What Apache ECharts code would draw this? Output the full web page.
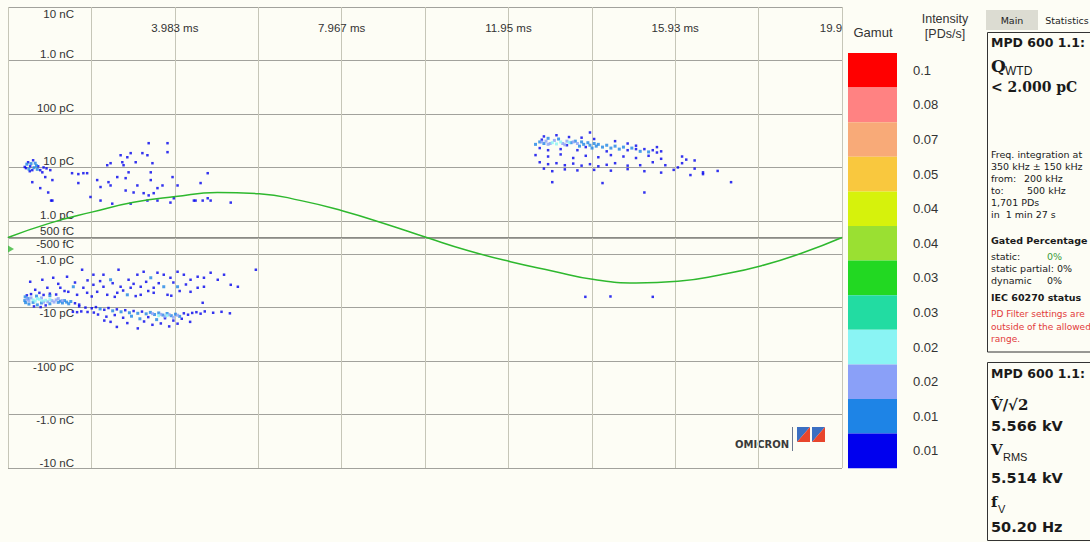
<!DOCTYPE html>
<html><head><meta charset="utf-8">
<script src="https://cdn.jsdelivr.net/npm/echarts@6/dist/echarts.min.js"></script>
<style>html,body{margin:0;padding:0;background:#fdfdf5;}#c{width:1090px;height:542px;}</style>
</head><body><div id="c"></div>
<script>
// ---------- data ----------
const T_MAX = 19.92;                       // ms, one period at 50.20 Hz
const T_STEP = 1.992;
const xTickLabels = ['', '', '3.983 ms', '', '7.967 ms', '', '11.95 ms', '', '15.93 ms', '', '19.9'];
const qTickValues = [0.5, 1, 10, 100, 1000, 10000];               // pC
const qPosLabels = ['500 fC', '1.0 pC', '10 pC', '100 pC', '1.0 nC', '10 nC'];
const qNegLabels = ['-500 fC', '-1.0 pC', '-10 pC', '-100 pC', '-1.0 nC', '-10 nC'];

// test voltage (kV)
const sineT  = [0, 1, 2, 3, 4, 5, 6, 7, 8, 9, 10, 11, 12, 13, 14, 15, 16, 17, 18, 19, 19.92];
const sineKV = [0, 2.5, 4.4, 6.1, 7.1, 7.8, 7.6, 6.4, 4.6, 2.4, 0, -2.3, -4.2, -5.8, -7.3, -7.9, -7.6, -6.5, -4.9, -2.6, 0];
const triggerLevel = [[0, -2.0]];

// gamut (intensity, PDs/s)
const gamutBounds = [0, 0.008, 0.012, 0.017, 0.022, 0.028, 0.034, 0.04, 0.047, 0.06, 0.075, 0.09, 1];
const gamutLabels = ['0.01', '0.01', '0.02', '0.02', '0.03', '0.03', '0.04', '0.04', '0.05', '0.07', '0.08', '0.1'];
const gamutColors = ['#0000ee', '#1e84e6', '#8aa0f8', '#8af4f4', '#22dca2', '#22d822', '#9ae032', '#d6f20c', '#f9c83e', '#f8aa78', '#ff8282', '#ff0000'];

// intensity of each PD group
const levelIntensity = [0.005, 0.01, 0.015, 0.02];

// PD points [phase time ms, charge pC]
const pdDark = [
  [0.43,9.7],[0.48,12.5],[0.53,10.5],[0.58,8.9],[0.6,13.6],[0.72,10.5],[0.77,8.9],[0.82,8.1],[1.01,8.9],[1.06,5.8],
  [0.77,4.1],[0.96,3.4],[1.06,2.4],[0.89,6.6],[0.58,5.3],[1.53,7.8],[1.68,7.5],[1.8,7.8],[1.68,5.1],[1.97,2.8],
  [2.21,4.3],[2.4,5.3],[2.45,4.6],[2.37,11.0],[2.45,12.0],[2.69,16.9],[2.73,12.5],[2.76,11.0],[2.93,18.5],[2.85,15.5],
  [3.05,12.5],[2.88,8.1],[2.61,6.6],[2.81,6.3],[3.09,4.6],[2.81,3.7],[3.0,3.4],[3.24,3.3],[3.33,2.4],[3.36,3.0],
  [3.48,3.3],[3.41,8.1],[3.45,12.0],[3.41,5.8],[3.21,18.5],[3.33,16.9],[3.36,28.4],[3.81,28.4],[3.81,19.3],[3.69,4.6],
  [3.57,4.1],[3.93,6.6],[4.05,4.6],[3.96,2.65],[3.88,2.2],[2.49,2.1],[2.93,2.1],[2.21,2.4],[2.13,5.8],[1.89,7.8],
  [4.6,5.1],[4.65,2.4],[4.48,2.4],[4.77,2.65],[4.77,7.8],[1.03,2.4],[3.57,2.4],[4.84,2.4],[5.32,2.2],[4.44,2.4],
  [0.4,10.2],[0.85,10.0],[0.92,9.6],[0.52,8.5],
  [1.77,-1.96],[2.64,-1.96],[2.04,-2.43],[1.41,-2.65],[1.08,-2.77],[0.82,-3.02],[0.53,-3.29],[2.28,-2.43],[2.88,-3.02],
  [3.09,-2.43],[3.24,-2.14],[3.57,-2.23],[3.72,-2.43],[3.88,-2.77],[4.05,-2.14],[4.2,-2.43],[4.36,-3.02],[4.53,-2.65],
  [4.68,-2.77],[4.84,-2.23],[5.01,-3.02],[5.16,-2.43],[5.32,-3.75],[5.49,-4.08],[5.92,-1.96],[4.68,-4.08],[4.53,-4.26],
  [3.48,-4.26],[3.17,-4.08],[2.93,-4.26],[2.69,-4.08],[2.28,-4.08],[2.04,-3.75],[1.8,-4.26],[1.25,-4.26],[0.94,-4.26],
  [0.65,-4.65],[4.36,-5.07],[4.65,-8.14],[3.81,-5.77],[3.48,-5.29],[3.17,-5.77],[2.61,-5.29],[2.37,-5.77],[2.13,-5.07],
  [1.89,-5.29],[1.65,-5.77],[1.44,-5.07],[2.5,-3.5],[3.0,-3.6],[3.3,-3.3],[3.6,-3.5],[3.95,-3.4],[4.25,-3.7],[1.9,-3.1],
  [1.6,-3.4],[1.2,-3.6],[2.2,-3.2],[2.75,-4.8],[3.35,-4.9],[4.1,-4.9],[1.35,-4.9],[1.0,-5.5],[0.75,-5.3],[3.9,-6.0],
  [2.0,-6.2],[2.55,-6.3],[3.05,-6.1],
  [1.6,-8.3],[1.7,-8.8],[0.9,-9.1],[0.45,-5.9],[0.55,-5.6],[0.85,-5.8],[1.15,-5.7],[0.62,-9.5],[0.78,-9.8],
  [1.55,-12.0],[1.65,-12.2],[1.75,-11.8],[1.9,-12.1],[2.05,-12.4],
  [1.7,-9.5],[1.85,-10.0],[2.0,-10.3],[2.1,-9.8],[2.3,-11.0],[2.4,-10.2],[2.6,-10.8],[2.8,-11.2],[3.0,-11.6],[3.2,-11.9],
  [4.2,-12.8],[4.3,-13.6],[4.4,-12.6],[4.5,-12.2],[4.6,-13.0],[2.15,-13.5],[2.35,-14.8],[2.55,-13.8],[2.75,-15.5],
  [3.35,-15.1],[3.75,-15.8],[3.95,-17.5],[4.15,-16.2],[2.45,-18.5],[2.85,-19.5],[3.25,-18.2],[3.45,-21.0],[3.65,-19.8],
  [3.85,-22.5],[2.6,-23.0],[3.1,-24.5],[2.3,-17.5],[4.05,-20.0],[4.35,-18.5],[4.7,-11.8],[4.9,-12.5],[5.1,-12.0],[5.3,-12.8],
  [12.75,33],[13.35,26],[13.8,24],[14.8,21],[15.0,22],[15.2,22],[15.4,21],[15.5,19],[15.6,20],[12.8,38],[13.1,40],
  [13.4,37],[13.7,36],[14.0,34],[14.5,31],[13.9,45],[13.2,22],[12.9,21],[12.7,23],[13.6,21],[14.3,20],[15.0,25.5],
  [15.5,24.0],[14.8,28],
  [12.6,17],[12.9,16],[13.2,17.5],[13.5,15],[13.8,16.5],[14.1,15.5],[14.4,17],[14.7,16],[15.0,15],[15.3,16.5],[15.6,14.5],
  [16.1,16],[16.2,14],[16.4,13.5],[12.7,12.5],[12.9,11.5],[13.1,12.0],[13.3,11.0],[13.5,11.8],[13.7,10.8],[13.9,11.5],
  [14.1,10.5],[14.3,11.2],[14.5,12.0],[14.8,10.8],[15.1,11.0],[15.4,12.5],[15.7,11.0],[16.0,10.0],[16.1,12.0],[16.4,9.5],
  [12.8,9.5],[13.0,8.5],[13.3,9.2],[13.6,8.8],[14.0,9.0],[14.4,8.7],[14.8,9.3],[15.2,8.5],[15.6,8.0],[16.6,8.1],[16.95,8.6],
  [16.3,7.2],[13.0,5.3],[14.2,5.1],[15.2,3.4],[17.27,5.3],[16.6,7.5],[15.9,9.0],
  [13.79,-6.3],[14.39,-6.2],[15.4,-6.3]
];
const pdMid = [
  [0.45,11.5],[0.55,11.8],[0.62,9.9],[0.68,10.8],[0.65,12.0],[0.5,9.3],[0.7,9.2],
  [2.45,-3.02],[3.41,-2.77],[4.05,-4.08],[1.56,-4.08],[2.85,-5.77],[3.72,-4.08],
  [0.41,-6.3],[1.25,-7.6],[1.3,-8.2],[1.35,-7.4],[1.4,-7.9],[1.45,-8.5],[1.5,-7.7],[0.42,-8.1],[0.5,-8.6],[0.6,-8.0],
  [0.7,-8.9],[0.8,-8.2],[1.0,-8.5],[0.68,-6.1],[1.0,-6.0],[0.4,-7.4],[0.48,-6.8],[1.2,-8.0],
  [2.2,-10.6],[2.5,-11.5],[2.7,-12.0],[2.9,-12.5],[3.1,-12.8],[3.3,-13.1],[3.5,-13.5],[3.7,-13.8],[3.9,-14.2],[4.1,-14.6],
  [3.4,-12.3],[3.6,-12.6],[3.8,-12.9],[4.0,-13.3],[3.55,-16.8],[3.15,-16.2],[2.95,-14.5],
  [12.6,27],[12.7,30],[12.8,28],[12.9,35],[13.15,34],[13.45,29],[13.55,31],[13.65,25],[13.7,30],[13.75,27],[13.85,29],
  [13.9,26],[14.0,28],[14.05,25],[14.1,27],[14.2,24],[14.3,26],[14.5,25],[14.7,24],[14.9,23],[15.1,20],[15.3,19.5],
  [13.95,23],[14.4,23],[14.6,22]
];
const pdLight = [
  [0.5,-7.5],[0.55,-6.6],[0.8,-6.6],[0.95,-7.8],[1.05,-7.4],[1.15,-7.2],[1.2,-6.8],[0.45,-7.0],[1.1,-7.9],[0.85,-7.9],[1.3,-7.4],
  [3.45,-13.0],[3.65,-13.4],[3.85,-13.6],[4.05,-13.9],[3.75,-14.8],[3.95,-15.2],
  [12.75,30],[12.85,31],[12.95,28],[13.05,32],[13.25,28],[13.35,31],[13.5,30],[13.6,28],[13.3,26.5],[12.9,27]
];
const pdCyan = [
  [0.6,-7.2],[0.75,-7.0],[0.9,-7.3],[0.7,-6.8],[0.82,-7.5],[1.0,-7.1],[0.65,-7.6],
  [3.6,-14.2],[3.8,-14.0],
  [13.0,29],[13.2,30],[13.4,29.5],[13.1,27.5]
];

// ---------- chart ----------
const chart = echarts.init(document.getElementById('c'), null, {renderer: 'svg'});

function qIndex(v) {
  let best = 0, bd = Infinity;
  qTickValues.forEach((t, i) => { const d = Math.abs(Math.log10(v) - Math.log10(t)); if (d < bd) { bd = d; best = i; } });
  return best;
}
const labFont = {fontSize: 11.5, fontFamily: 'Liberation Sans', color: '#333'};

const pdGroups = [pdDark, pdMid, pdLight, pdCyan];
const pdSizes = [2.5, 3, 3, 3];
const series = [];
const pdSeriesIdx = [];
pdGroups.forEach((grp, li) => {
  const I = levelIntensity[li];
  const pos = grp.filter(p => p[1] > 0).map(p => [p[0], p[1], I]);
  const neg = grp.filter(p => p[1] < 0).map(p => [p[0], -p[1], I]);
  pdSeriesIdx.push(series.length);
  series.push({type: 'scatter', xAxisIndex: 0, yAxisIndex: 0, symbol: 'rect', symbolSize: pdSizes[li], data: pos, silent: true, z: 3 + li});
  pdSeriesIdx.push(series.length);
  series.push({type: 'scatter', xAxisIndex: 1, yAxisIndex: 1, symbol: 'rect', symbolSize: pdSizes[li], data: neg, silent: true, z: 3 + li});
});
series.push({
  type: 'line', xAxisIndex: 2, yAxisIndex: 2, smooth: true, showSymbol: false, silent: true, z: 10,
  data: sineT.map((t, i) => [t, sineKV[i]]),
  lineStyle: {color: '#2eb82e', width: 1.5}, itemStyle: {color: '#2eb82e'}
});
series.push({
  type: 'scatter', xAxisIndex: 2, yAxisIndex: 2, silent: true, z: 10,
  symbol: 'triangle', symbolRotate: -90, symbolSize: [7, 6], symbolOffset: [3, 0],
  itemStyle: {color: '#38b838'}, data: triggerLevel
});

const pieces = gamutLabels.map((l, i) => ({min: gamutBounds[i], max: gamutBounds[i + 1], label: l, color: gamutColors[i]}));

function txt(text, x, y, font, fill, extra) {
  return {type: 'text', silent: true, style: Object.assign({text: text, x: x, y: y, font: font, fill: fill || '#1a1a1a', align: 'left', verticalAlign: 'middle'}, extra || {})};
}
const small = '9.5px "DejaVu Sans"';
const red = '9px "DejaVu Sans"';
const smallB = 'bold 9.5px "DejaVu Sans"';
const head = 'bold 12.5px "DejaVu Sans"';
const val = 'bold 14.5px "DejaVu Sans"';
const ser = 'bold 15px "DejaVu Serif"';

const graphic = [
  txt('Gamut', 873, 32, '13px "Liberation Sans"', '#333', {align: 'center'}),
  txt('Intensity', 945, 19, '12.5px "Liberation Sans"', '#333', {align: 'center'}),
  txt('[PDs/s]', 945, 34, '12.5px "Liberation Sans"', '#333', {align: 'center'}),
  {type: 'rect', silent: true, shape: {x: 986, y: 10, width: 52, height: 20}, style: {fill: '#dcdcd2'}},
  txt('Main', 1012, 20, '9.5px "DejaVu Sans"', '#222', {align: 'center'}),
  txt('Statistics', 1067, 20, '9.5px "DejaVu Sans"', '#222', {align: 'center'}),
  {type: 'rect', silent: true, shape: {x: 987.5, y: 32.5, width: 110, height: 319.5}, style: {fill: 'none', stroke: '#333', lineWidth: 1}},
  {type: 'rect', silent: true, shape: {x: 987.5, y: 362.5, width: 110, height: 178}, style: {fill: 'none', stroke: '#333', lineWidth: 1}},
  txt('MPD 600 1.1:', 991, 42, head),
  txt('Q', 991, 66, 'bold 17px "DejaVu Serif"'),
  txt('WTD', 1005, 71, '12px "Liberation Sans"'),
  txt('< 2.000 pC', 991, 87, 'bold 14px "DejaVu Serif"'),
  txt('Freq. integration at', 991, 154, small),
  txt('350 kHz \u00b1 150 kHz', 991, 166, small),
  txt('from:', 991, 178, small), txt('200 kHz', 1024, 178, small),
  txt('to:', 991, 190, small), txt('500 kHz', 1027, 190, small),
  txt('1,701 PDs', 991, 202, small),
  txt('in  1 min 27 s', 991, 214, small),
  txt('Gated Percentage', 991, 240, smallB),
  txt('static:', 991, 256, small), txt('0%', 1047, 256, small, '#3a9a3a'),
  txt('static partial: 0%', 991, 268, small),
  txt('dynamic', 991, 280, small), txt('0%', 1047, 280, small),
  txt('IEC 60270 status', 991, 297, smallB),
  txt('PD Filter settings are', 991, 314, red, '#e23a3a'),
  txt('outside of the allowed', 991, 326.5, red, '#e23a3a'),
  txt('range.', 991, 339, red, '#e23a3a'),
  txt('MPD 600 1.1:', 991, 373, head),
  txt('V\u0302/\u221a2', 991, 405, ser),
  txt('5.566 kV', 991, 426, val),
  txt('V', 991, 450, ser), txt('RMS', 1003, 457, '11px "Liberation Sans"'),
  txt('5.514 kV', 991, 478, val),
  txt('f', 991, 502, ser), txt('V', 998, 509, '11px "Liberation Sans"'),
  txt('50.20 Hz', 991, 527, val),
  // OMICRON logo
  txt('OMICRON', 735, 444, 'bold 10px "DejaVu Sans"', '#3a3a3a'),
  {type: 'line', silent: true, shape: {x1: 792.5, y1: 427, x2: 792.5, y2: 451}, style: {stroke: '#6a7890', lineWidth: 1}},
  {type: 'polygon', silent: true, shape: {points: [[797, 427], [810, 427], [797, 442]]}, style: {fill: '#3b6fc2'}},
  {type: 'polygon', silent: true, shape: {points: [[810, 427], [810, 442], [797, 442]]}, style: {fill: '#e8452c'}},
  {type: 'polygon', silent: true, shape: {points: [[812, 427], [825, 427], [812, 442]]}, style: {fill: '#3b6fc2'}},
  {type: 'polygon', silent: true, shape: {points: [[825, 427], [825, 442], [812, 442]]}, style: {fill: '#e8452c'}}
];

const option = {
  backgroundColor: '#fdfdf5',
  animation: false,
  grid: [
    {left: 8, top: 7, width: 834, height: 230, containLabel: false, outerBoundsMode: 'none'},
    {left: 8, top: 238, width: 834, height: 230, containLabel: false, outerBoundsMode: 'none'},
    {left: 8, top: 7, width: 834, height: 461, containLabel: false, outerBoundsMode: 'none'}
  ],
  xAxis: [
    {type: 'value', gridIndex: 0, min: 0, max: T_MAX, show: false},
    {type: 'value', gridIndex: 1, min: 0, max: T_MAX, show: false},
    {type: 'value', gridIndex: 2, min: 0, max: T_MAX, interval: T_STEP, position: 'top',
      axisLine: {show: true, lineStyle: {color: '#8a8a84', width: 1}},
      axisTick: {show: false},
      splitLine: {show: true, lineStyle: {color: '#c6c6b8', width: 1}},
      axisLabel: {inside: true, margin: 15, fontSize: 11.5, fontFamily: 'Liberation Sans', color: '#333',
        formatter: (v, i) => { const s = xTickLabels[i] || ''; if (!s) return ''; return i === xTickLabels.length - 1 ? '{e|' + s + '}' : s; },
        rich: {e: {fontSize: 11.5, fontFamily: 'Liberation Sans', color: '#333', padding: [0, 22, 0, 0]}}}
    }
  ],
  yAxis: [
    {type: 'log', logBase: 10, gridIndex: 0, min: 0.5, max: 10000, position: 'left', offset: -66,
      axisLine: {show: false}, axisTick: {show: false},
      splitLine: {show: true, lineStyle: {color: '#a2a29c', width: 1}},
      axisLabel: {margin: 0, verticalAlign: 'middle',
        formatter: v => { const i = qIndex(v); return (i === qTickValues.length - 1 ? '{d|' : '{u|') + qPosLabels[i] + '}'; },
        rich: {u: Object.assign({padding: [0, 0, 12, 0]}, labFont), d: Object.assign({padding: [13, 0, 0, 0]}, labFont)}}
    },
    {type: 'log', logBase: 10, gridIndex: 1, min: 0.5, max: 10000, inverse: true, position: 'left', offset: -66,
      axisLine: {show: false}, axisTick: {show: false},
      splitLine: {show: true, lineStyle: {color: '#a2a29c', width: 1}},
      axisLabel: {margin: 0, verticalAlign: 'middle',
        formatter: v => { const i = qIndex(v); return (i === qTickValues.length - 1 ? '{u|' : '{d|') + qNegLabels[i] + '}'; },
        rich: {u: Object.assign({padding: [0, 0, 10, 0]}, labFont), d: Object.assign({padding: [11, 0, 0, 0]}, labFont)}}
    },
    {type: 'value', gridIndex: 2, min: -40, max: 40, show: false}
  ],
  visualMap: {
    type: 'piecewise', dimension: 2, seriesIndex: pdSeriesIdx, pieces: pieces,
    orient: 'vertical', left: 848, top: 53, padding: 0,
    itemWidth: 49, itemHeight: 34.6, itemGap: 0, itemSymbol: 'rect', textGap: 16, align: 'left',
    selectedMode: false, hoverLink: false, showLabel: true,
    textStyle: {fontSize: 13, fontFamily: 'Liberation Sans', color: '#333'}
  },
  graphic: graphic,
  series: series
};
chart.setOption(option);
</script>
</body></html>
